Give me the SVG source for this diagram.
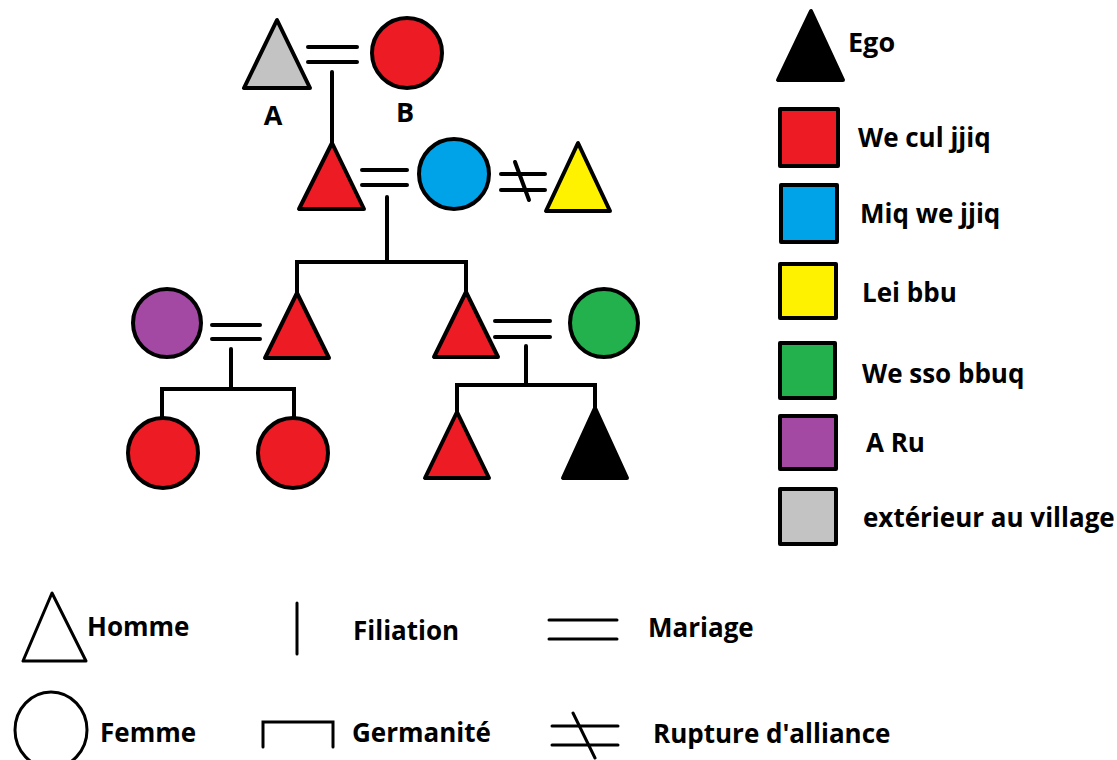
<svg xmlns="http://www.w3.org/2000/svg" width="1117" height="760" viewBox="0 0 1117 760">
<style>
.sh{stroke:#000;stroke-width:4;stroke-linejoin:round}
.ln{stroke:#000;stroke-width:4;fill:none;stroke-linecap:round}
.lg{stroke:#000;stroke-width:3;fill:none;stroke-linecap:round}
.t{font-family:"Open Sans","Liberation Sans",sans-serif;font-weight:bold;font-size:26px;fill:#000}
.red{fill:#ed1c24}.blue{fill:#00a2e8}.yel{fill:#fff200}.grn{fill:#22b14c}.pur{fill:#a349a4}.gry{fill:#c3c3c3}.blk{fill:#000}
</style>
<rect width="1117" height="760" fill="#fff"/>
<g id="connectors">
<line class="ln" x1="308" y1="47" x2="357" y2="47"/>
<line class="ln" x1="308" y1="62" x2="357" y2="62"/>
<line class="ln" x1="332" y1="72" x2="332" y2="143"/>
<line class="ln" x1="362" y1="170" x2="407" y2="170"/>
<line class="ln" x1="362" y1="185" x2="407" y2="185"/>
<line class="ln" x1="501" y1="174" x2="545" y2="174"/>
<line class="ln" x1="501" y1="190" x2="545" y2="190"/>
<line class="ln" x1="515" y1="162" x2="529" y2="200"/>
<line class="ln" x1="387" y1="197" x2="387" y2="262"/>
<polyline class="ln" points="297,293 297,262 466,262 466,292"/>
<line class="ln" x1="212" y1="325" x2="260" y2="325"/>
<line class="ln" x1="212" y1="339" x2="260" y2="339"/>
<line class="ln" x1="231" y1="349" x2="231" y2="389"/>
<polyline class="ln" points="162,417 162,389 294,389 294,417"/>
<line class="ln" x1="495" y1="321" x2="550" y2="321"/>
<line class="ln" x1="495" y1="337" x2="550" y2="337"/>
<line class="ln" x1="526" y1="346" x2="526" y2="385"/>
<polyline class="ln" points="457,412 457,385 595,385 595,408"/>
</g>
<g id="A"><polygon class="sh gry" points="277,20 244,88 310,88"/><text class="t" x="273" y="125" text-anchor="middle" style="font-size:27px">A</text></g>
<g id="B"><circle class="sh red" cx="407" cy="53" r="35"/><text class="t" x="405" y="122" text-anchor="middle" style="font-size:27px">B</text></g>
<g id="father"><polygon class="sh red" points="332,143 299,209 364,209"/></g>
<g id="mother"><circle class="sh blue" cx="454" cy="174" r="35"/></g>
<g id="ex"><polygon class="sh yel" points="578,143 546,211 610,211"/></g>
<g id="uncle"><polygon class="sh red" points="297,293 265,358 329,358"/></g>
<g id="aunt"><circle class="sh pur" cx="167" cy="323" r="34"/></g>
<g id="cousin1"><circle class="sh red" cx="163" cy="453" r="35"/></g>
<g id="cousin2"><circle class="sh red" cx="293" cy="453" r="35"/></g>
<g id="dad"><polygon class="sh red" points="466,292 434,357 498,357"/></g>
<g id="mom"><circle class="sh grn" cx="604" cy="323" r="34"/></g>
<g id="brother"><polygon class="sh red" points="457,412 425,478 489,478"/></g>
<g id="ego"><polygon class="sh blk" points="595,408 563,478 627,478"/></g>
<g id="legend-colors">
<polygon class="sh blk" points="811,11 778,80 843,80"/>
<text class="t" x="848" y="52" style="font-size:27px">Ego</text>
<rect class="sh red" x="780" y="109" width="58" height="57"/>
<text class="t" x="858" y="147">We cul jjiq</text>
<rect class="sh blue" x="781" y="185" width="56" height="57"/>
<text class="t" x="860" y="223">Miq we jjiq</text>
<rect class="sh yel" x="780" y="264" width="56" height="54"/>
<text class="t" x="862" y="302">Lei bbu</text>
<rect class="sh grn" x="780" y="343" width="55" height="55"/>
<text class="t" x="862" y="383">We sso bbuq</text>
<rect class="sh pur" x="780" y="416" width="56" height="53"/>
<text class="t" x="866" y="452">A Ru</text>
<rect class="sh gry" x="780" y="489" width="56" height="55"/>
<text class="t" x="863" y="527">extérieur au village</text>
</g>
<g id="legend-symbols">
<polygon class="lg" points="52,593 23,661 86,661" style="stroke-linejoin:round"/>
<text class="t" x="87" y="636">Homme</text>
<line class="lg" x1="297" y1="603" x2="297" y2="654"/>
<text class="t" x="353" y="640">Filiation</text>
<line class="lg" x1="549" y1="620" x2="617" y2="620"/>
<line class="lg" x1="549" y1="639" x2="617" y2="639"/>
<text class="t" x="648" y="637">Mariage</text>
<ellipse class="lg" cx="51" cy="730" rx="36" ry="38"/>
<text class="t" x="100" y="742">Femme</text>
<polyline class="lg" points="263,747 263,722 333,722 333,747"/>
<text class="t" x="352" y="742">Germanité</text>
<line class="lg" x1="552" y1="726" x2="618" y2="726"/>
<line class="lg" x1="552" y1="745" x2="618" y2="745"/>
<line class="lg" x1="573" y1="713" x2="595" y2="758"/>
<text class="t" x="653" y="743">Rupture d'alliance</text>
</g>
</svg>
